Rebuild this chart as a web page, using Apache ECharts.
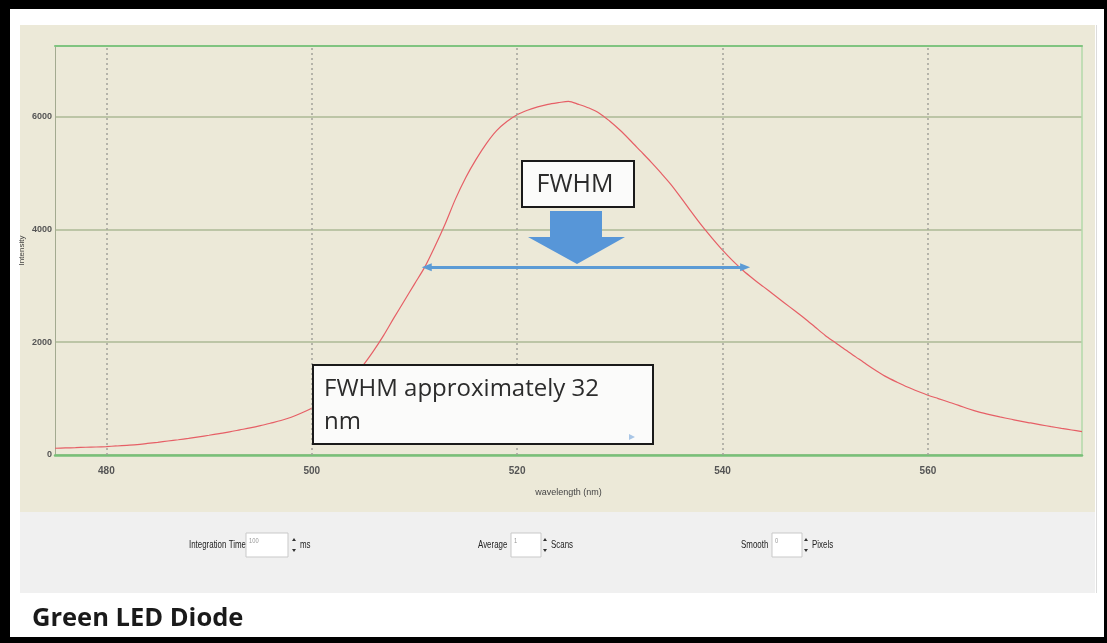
<!DOCTYPE html>
<html>
<head>
<meta charset="utf-8">
<script src="https://cdn.jsdelivr.net/npm/echarts@6/dist/echarts.min.js"></script>
<style>
  html, body { margin: 0; padding: 0; background: #ffffff; }
  #chart { width: 1107px; height: 643px; }
</style>
</head>
<body>
<div id="chart"></div>
<script>
// Spectrum samples: wavelength (nm) and detector intensity (counts)
const wavelengths = [
  475, 476, 477, 478, 479, 480, 481, 482, 483, 484, 485, 486, 487, 488, 489,
  490, 491, 492, 493, 494, 495, 496, 497, 498, 499, 500, 501, 502, 503, 504,
  505, 506, 507, 508, 509, 510, 511, 512, 513, 514, 515, 516, 517, 518, 519,
  520, 521, 522, 523, 524, 525, 526, 527, 528, 529, 530, 531, 532, 533, 534,
  535, 536, 537, 538, 539, 540, 541, 542, 543, 544, 545, 546, 547, 548, 549,
  550, 551, 552, 553, 554, 555, 556, 557, 558, 559, 560, 561, 562, 563, 564,
  565, 566, 567, 568, 569, 570, 571, 572, 573, 574, 575
];
const intensity = [
  120, 125, 130, 137, 142, 150, 160, 172, 185, 205, 225, 248, 270, 295, 322,
  350, 380, 410, 445, 480, 520, 565, 612, 670, 745, 830, 930, 1040, 1200, 1390,
  1590, 1840, 2120, 2430, 2730, 3030, 3330, 3700, 4100, 4540, 4920, 5240, 5520, 5750, 5910,
  6030, 6110, 6170, 6215, 6245, 6270, 6215, 6150, 6060, 5920, 5760, 5580, 5390, 5200, 5000,
  4790, 4550, 4300, 4060, 3840, 3630, 3440, 3270, 3120, 2980, 2840, 2700, 2560, 2420, 2270,
  2120, 1990, 1860, 1735, 1610, 1490, 1380, 1290, 1205, 1130, 1060, 1000, 940, 880, 815,
  760, 715, 675, 638, 600, 568, 535, 503, 472, 443, 415
];

// Axis ticks
const xTicks = [480, 500, 520, 540, 560];
const yTicks = [0, 2000, 4000, 6000];

// Full width at half maximum marker (nm, counts)
const fwhmStart = 511.2;
const fwhmEnd = 542.2;
const fwhmLevel = 3330;
const fwhmTitle = 'FWHM';
const fwhmNote = ['FWHM approximately 32', 'nm'];

// Acquisition settings shown under the plot
const controlLabels = ['Integration Time', 'Average', 'Smooth'];
const controlValues = ['100', '1', '0'];
const controlUnits = ['ms', 'Scans', 'Pixels'];

const caption = 'Green LED Diode';

const sans = "'Liberation Sans', Arial, sans-serif";
const office = "'Open Sans', 'Noto Sans', sans-serif";

const points = wavelengths.map((w, i) => [w, intensity[i]]);

// Layout of the settings strip
const controlLayout = [
  { lx: 189, bx: 246, bw: 42, sx: 294, ux: 300 },
  { lx: 478, bx: 511, bw: 30, sx: 545, ux: 551 },
  { lx: 741, bx: 772, bw: 30, sx: 806, ux: 812 }
];

// condensed look for the small settings text
function smallText(x, y, text, size, color) {
  return {
    type: 'text', x: x, y: y, scaleX: 0.72,
    style: { text: text, font: size + "px " + sans, fill: color, verticalAlign: 'middle' }
  };
}

const graphics = [
  // page frame
  { type: 'rect', z: -20, shape: { x: 0, y: 0, width: 1107, height: 9 }, style: { fill: '#000' } },
  { type: 'rect', z: -20, shape: { x: 0, y: 0, width: 10, height: 643 }, style: { fill: '#000' } },
  { type: 'rect', z: -20, shape: { x: 1104, y: 0, width: 3, height: 643 }, style: { fill: '#000' } },
  { type: 'rect', z: -20, shape: { x: 0, y: 637, width: 1107, height: 6 }, style: { fill: '#000' } },
  // plot panel and settings strip
  { type: 'rect', z: -10, shape: { x: 20, y: 25, width: 1075, height: 487 }, style: { fill: '#ECE9D8' } },
  { type: 'rect', z: -10, shape: { x: 20, y: 512, width: 1075, height: 81 }, style: { fill: '#F0F0F0' } },
  { type: 'line', z: -9, shape: { x1: 1096.5, y1: 25, x2: 1096.5, y2: 593 }, style: { stroke: '#dcdcdc', lineWidth: 1 } },
  // caption
  {
    type: 'text', left: 32, top: 606,
    style: { text: caption, font: "bold 25.5px " + office, fill: '#1a1a1a' }
  },
  // FWHM label box
  {
    type: 'rect', z: 10, shape: { x: 522, y: 161, width: 112, height: 46 },
    style: { fill: '#fbfbfa', stroke: '#1a1a1a', lineWidth: 2 }
  },
  {
    type: 'text', z: 11, x: 575, y: 185,
    style: { text: fwhmTitle, font: "25px " + office, fill: '#2c2c2c', align: 'center', verticalAlign: 'middle' }
  },
  // block arrow pointing down to the FWHM line
  {
    type: 'polygon', z: 10,
    shape: { points: [[550, 211], [602, 211], [602, 237], [625, 237], [577, 264], [528, 237], [550, 237]] },
    style: { fill: '#5796d8' }
  },
  // note box
  {
    type: 'rect', z: 10, shape: { x: 313, y: 365, width: 340, height: 79 },
    style: { fill: '#fbfbfa', stroke: '#1a1a1a', lineWidth: 2 }
  },
  {
    type: 'text', z: 11, x: 324, y: 373,
    style: { text: fwhmNote.join('\n'), font: "24px " + office, lineHeight: 33, fill: '#2c2c2c' }
  },
  {
    type: 'polygon', z: 11, shape: { points: [[629, 434], [635, 437], [629, 440]] },
    style: { fill: '#a9c6e6' }
  }
];

controlLayout.forEach((c, i) => {
  graphics.push(
    smallText(c.lx, 545, controlLabels[i], 11, '#222'),
    { type: 'rect', shape: { x: c.bx, y: 533, width: c.bw, height: 24 }, style: { fill: '#fff', stroke: '#c9c9c9', lineWidth: 1 } },
    smallText(c.bx + 3, 541, controlValues[i], 8, '#999'),
    { type: 'polygon', shape: { points: [[c.sx - 2, 541], [c.sx, 538], [c.sx + 2, 541]] }, style: { fill: '#333' } },
    { type: 'polygon', shape: { points: [[c.sx - 2, 549], [c.sx, 552], [c.sx + 2, 549]] }, style: { fill: '#333' } },
    smallText(c.ux, 545, controlUnits[i], 11, '#222')
  );
});

const chart = echarts.init(document.getElementById('chart'), null, { renderer: 'canvas' });

chart.setOption({
  animation: false,
  backgroundColor: '#ffffff',
  grid: {
    left: 55, top: 46, right: 25, bottom: 188,
    show: false
  },
  xAxis: [
    {
      type: 'value', min: 475, max: 575,
      name: 'wavelength (nm)', nameLocation: 'middle', nameGap: 33,
      nameMoveOverlap: false,
      nameTextStyle: { fontFamily: sans, fontSize: 9, color: '#444' },
      axisLine: { show: true, onZero: false, lineStyle: { color: '#78c078', width: 2.5 } },
      axisTick: { show: false },
      axisLabel: {
        customValues: xTicks, margin: 11,
        fontFamily: sans, fontSize: 10, fontWeight: 'bold', color: '#555'
      },
      splitLine: { show: false }
    },
    {
      type: 'value', min: 475, max: 575, position: 'top',
      axisLine: { show: true, onZero: false, lineStyle: { color: '#80c480', width: 2 } },
      axisTick: { show: false }, axisLabel: { show: false }, splitLine: { show: false }
    }
  ],
  yAxis: [
    {
      type: 'value', min: 0, max: 7250, interval: 2000,
      name: 'Intensity', nameLocation: 'middle', nameGap: 29, nameRotate: 90,
      nameMoveOverlap: false,
      nameTextStyle: { fontFamily: sans, fontSize: 8, color: '#444' },
      axisLine: { show: true, onZero: false, lineStyle: { color: '#a3aa90', width: 1 } },
      axisTick: { show: false },
      axisLabel: {
        customValues: yTicks, margin: 3,
        formatter: v => String(v),
        fontFamily: sans, fontSize: 9, fontWeight: 'bold', color: '#555'
      },
      splitLine: { show: true, lineStyle: { color: '#adb896', width: 1.5 } }
    },
    {
      type: 'value', min: 0, max: 7250, position: 'right',
      axisLine: { show: true, onZero: false, lineStyle: { color: '#b3d9aa', width: 1.5 } },
      axisTick: { show: false }, axisLabel: { show: false }, splitLine: { show: false }
    }
  ],
  series: [
    {
      type: 'line',
      data: points,
      showSymbol: false,
      smooth: 0.3,
      lineStyle: { color: '#e65f66', width: 1.2 },
      silent: true,
      markLine: {
        silent: true,
        symbol: ['none', 'none'],
        label: { show: false },
        animation: false,
        data: xTicks.map(v => ({
          xAxis: v,
          lineStyle: { color: '#a3a39a', type: [2, 3], width: 1.5 }
        })).concat([
          [
            { coord: [fwhmStart, fwhmLevel], symbol: 'triangle', symbolSize: [8, 10], symbolRotate: 90,
              lineStyle: { color: '#5b9bd5', width: 3, type: 'solid' } },
            { coord: [fwhmEnd, fwhmLevel], symbol: 'triangle', symbolSize: [8, 10], symbolRotate: -90 }
          ]
        ])
      },
      z: 3
    }
  ],
  graphic: graphics
});
</script>
</body>
</html>
